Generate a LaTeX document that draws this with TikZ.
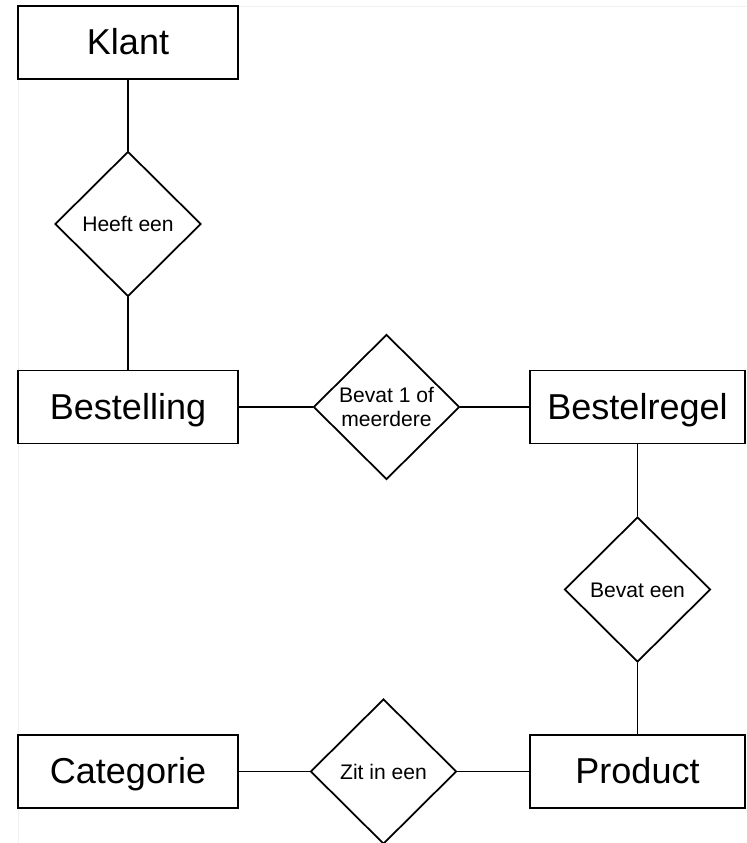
\documentclass[tikz,border=0pt]{standalone}
\usepackage{fontspec}
\setmainfont{Liberation Sans}
\usepackage{tikz}
\usetikzlibrary{shapes}

\begin{document}
\begin{tikzpicture}[
    entity/.style={draw,line width=1pt,fill=white,minimum width=4.4cm,minimum height=1.46cm,inner sep=0pt,text height=14.7pt,text depth=0.6pt,font=\fontsize{20.5}{24}\selectfont},
    relation/.style={draw,diamond,line width=1pt,fill=white,minimum width=2.92cm,minimum height=2.9cm,inner sep=0pt,align=center,font=\fontsize{12}{13.2}\selectfont},
    oneline/.style={text height=8.6pt,text depth=0pt}]
    \useasboundingbox (0,0) rectangle (14.92,16.86);
    \draw[gray!12] (0.36,0) -- (0.36,16.74) -- (14.92,16.74);

    \node[entity] (klant) at (2.56,16.01) {Klant};
    \node[entity] (bestelling) at (2.56,8.72) {Bestelling};
    \node[entity,minimum width=4.3cm] (bestelregel) at (12.75,8.72) {Bestelregel};
    \node[entity] (categorie) at (2.56,1.43) {Categorie};
    \node[entity,minimum width=4.3cm] (product) at (12.75,1.43) {Product};

    \node[relation,oneline] (heeft) at (2.56,12.38) {Heeft een};
    \node[relation] (bevatmeer) at (7.73,8.72) {Bevat 1 of\\meerdere};
    \node[relation,oneline] (bevateen) at (12.75,5.07) {Bevat een};
    \node[relation,oneline] (zitin) at (7.67,1.43) {Zit in een};

    \draw[line width=1pt] (klant) -- (heeft);
    \draw[line width=1pt] (heeft) -- (bestelling);
    \draw[line width=1pt] (bestelling) -- (bevatmeer);
    \draw[line width=1pt] (bevatmeer) -- (bestelregel);
    \draw[line width=1pt] (bestelregel) -- (bevateen);
    \draw[line width=1pt] (bevateen) -- (product);
    \draw[line width=1pt] (categorie) -- (zitin);
    \draw[line width=1pt] (zitin) -- (product);
  \end{tikzpicture}
\end{document}
